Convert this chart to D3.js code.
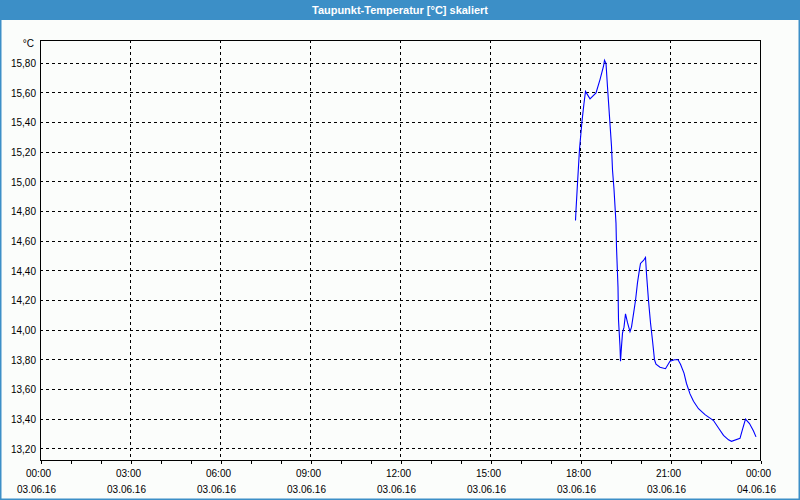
<!DOCTYPE html>
<html>
<head>
<meta charset="utf-8">
<script src="https://cdn.jsdelivr.net/npm/d3@7/dist/d3.min.js"></script>
<style>
  html, body { margin: 0; padding: 0; background: #fbfdfb; }
  svg { display: block; }
  text { font-family: "Liberation Sans Narrow", "Liberation Sans", Arial, sans-serif; }
</style>
</head>
<body>
<svg id="chart" width="800" height="500"></svg>
<script>
// ---- data ----
const title = "Taupunkt-Temperatur [°C] skaliert";
const unit = "°C";
const times = ["17:51","17:52","17:55","17:59","18:04","18:08","18:11","18:20","18:32","18:40","18:47","18:49","18:52","18:55","18:59","19:03","19:05","19:08","19:12","19:13","19:16","19:17","19:20","19:21","19:23","19:25","19:28","19:31","19:35","19:40","19:43","19:47","19:51","19:55","19:59","20:01","20:07","20:11","20:13","20:17","20:21","20:25","20:29","20:32","20:40","20:51","21:00","21:09","21:16","21:21","21:28","21:33","21:40","21:47","21:57","22:10","22:27","22:37","22:47","22:57","23:03","23:20","23:25","23:31","23:39","23:47","23:52"];
const values = [14.74,14.81,14.99,15.22,15.41,15.53,15.61,15.56,15.60,15.69,15.78,15.82,15.80,15.64,15.44,15.24,15.08,14.95,14.72,14.56,14.29,14.07,13.89,13.79,13.89,13.98,14.02,14.11,14.05,13.99,14.02,14.11,14.20,14.32,14.41,14.45,14.47,14.49,14.38,14.20,14.05,13.93,13.80,13.77,13.75,13.74,13.79,13.80,13.80,13.77,13.71,13.64,13.57,13.52,13.47,13.43,13.39,13.34,13.29,13.26,13.25,13.27,13.33,13.40,13.37,13.32,13.28];
const yTicks = [13.2,13.4,13.6,13.8,14.0,14.2,14.4,14.6,14.8,15.0,15.2,15.4,15.6,15.8];
const xTickLabels = ["00:00","03:00","06:00","09:00","12:00","15:00","18:00","21:00","00:00"];
const xDateLabels = ["03.06.16","03.06.16","03.06.16","03.06.16","03.06.16","03.06.16","03.06.16","03.06.16","04.06.16"];
const startDate = "2016-06-03T00:00:00";
const endDate = "2016-06-04T00:00:00";
const yDomain = [13.124, 15.957];

// ---- layout ----
const W = 800, H = 500;
const L = 40, R = 760, T = 40, B = 460;
const svg = d3.select("#chart");
const parseDT = d3.timeParse("%Y-%m-%dT%H:%M:%S");
const t0 = parseDT(startDate), t1 = parseDT(endDate);
const toDate = s => { const [h,m] = s.split(":").map(Number); return new Date(t0.getTime() + (h*60+m)*60000); };

const x = d3.scaleTime().domain([t0, t1]).range([L, R]);
const y = d3.scaleLinear().domain(yDomain).range([B, T]);
const px = v => Math.floor(v) + 0.5;

// background
svg.append("rect").attr("width", W).attr("height", H).attr("fill", "#fbfdfb");
// title bar
svg.append("rect").attr("x", 0).attr("y", 0).attr("width", W).attr("height", 20).attr("fill", "#3c8fc7");
svg.append("text").attr("x", 400).attr("y", 13.5).attr("text-anchor", "middle")
  .attr("fill", "#ffffff").attr("font-weight", "bold").attr("font-size", 11.5)
  .attr("textLength", 176).attr("lengthAdjust", "spacingAndGlyphs").text(title);
// outer border
svg.append("rect").attr("x", 0.75).attr("y", 0.75).attr("width", W - 1.5).attr("height", H - 1.5)
  .attr("fill", "none").attr("stroke", "#3c8fc7").attr("stroke-width", 1.5);

// horizontal grid
svg.append("g").selectAll("line").data(yTicks).join("line")
  .attr("x1", L).attr("x2", R)
  .attr("y1", d => px(y(d))).attr("y2", d => px(y(d)))
  .attr("stroke", "#000").attr("stroke-width", 1).attr("stroke-dasharray", "3,3")
  .attr("shape-rendering", "crispEdges");

// vertical grid every 3 hours
const majorTicks = d3.timeHour.every(3).range(t0, d3.timeHour.offset(t1, 1));
svg.append("g").selectAll("line").data(majorTicks.filter(d => +d > +t0 && +d < +t1)).join("line")
  .attr("x1", d => px(x(d))).attr("x2", d => px(x(d)))
  .attr("y1", T).attr("y2", B)
  .attr("stroke", "#000").attr("stroke-width", 1).attr("stroke-dasharray", "3,3")
  .attr("shape-rendering", "crispEdges");

// x axis hourly ticks
const xAxis = d3.axisBottom(x).ticks(d3.timeHour.every(1)).tickSize(3).tickSizeOuter(0).tickFormat("");
const gx = svg.append("g").attr("transform", `translate(0.5,${B + 0.5})`).call(xAxis);
gx.select(".domain").remove();
gx.selectAll("line").attr("stroke", "#000").attr("shape-rendering", "crispEdges");

// x labels
svg.append("g").selectAll("text").data(majorTicks.filter(d => +d <= +t1)).join("text")
  .attr("x", d => x(d) - 1.5).attr("y", 477).attr("text-anchor", "middle")
  .attr("font-size", 10).attr("fill", "#000").text((d, i) => xTickLabels[i]);
svg.append("g").selectAll("text").data(majorTicks.filter(d => +d <= +t1)).join("text")
  .attr("x", d => x(d) - 3.5).attr("y", 492.5).attr("text-anchor", "middle")
  .attr("font-size", 10).attr("fill", "#000").text((d, i) => xDateLabels[i]);

// y labels
const fmt = d => d3.format(".2f")(d).replace(".", ",");
svg.append("g").selectAll("text").data(yTicks).join("text")
  .attr("x", 36).attr("y", d => y(d) + 3.8).attr("text-anchor", "end")
  .attr("font-size", 10).attr("fill", "#000").text(fmt);
svg.append("text").attr("x", 34).attr("y", 47).attr("text-anchor", "end")
  .attr("font-size", 10).attr("fill", "#000").text(unit);

// plot frame
svg.append("rect").attr("x", L + 0.5).attr("y", T + 0.5).attr("width", R - L).attr("height", B - T)
  .attr("fill", "none").attr("stroke", "#000").attr("stroke-width", 1).attr("shape-rendering", "crispEdges");

// data line
const pts = times.map((t, i) => ({ t: toDate(t), v: values[i] }));
svg.append("path").datum(pts)
  .attr("fill", "none").attr("stroke", "#0000ff").attr("stroke-width", 1.1)
  .attr("d", d3.line().x(d => x(d.t)).y(d => y(d.v)));
</script>
</body>
</html>
